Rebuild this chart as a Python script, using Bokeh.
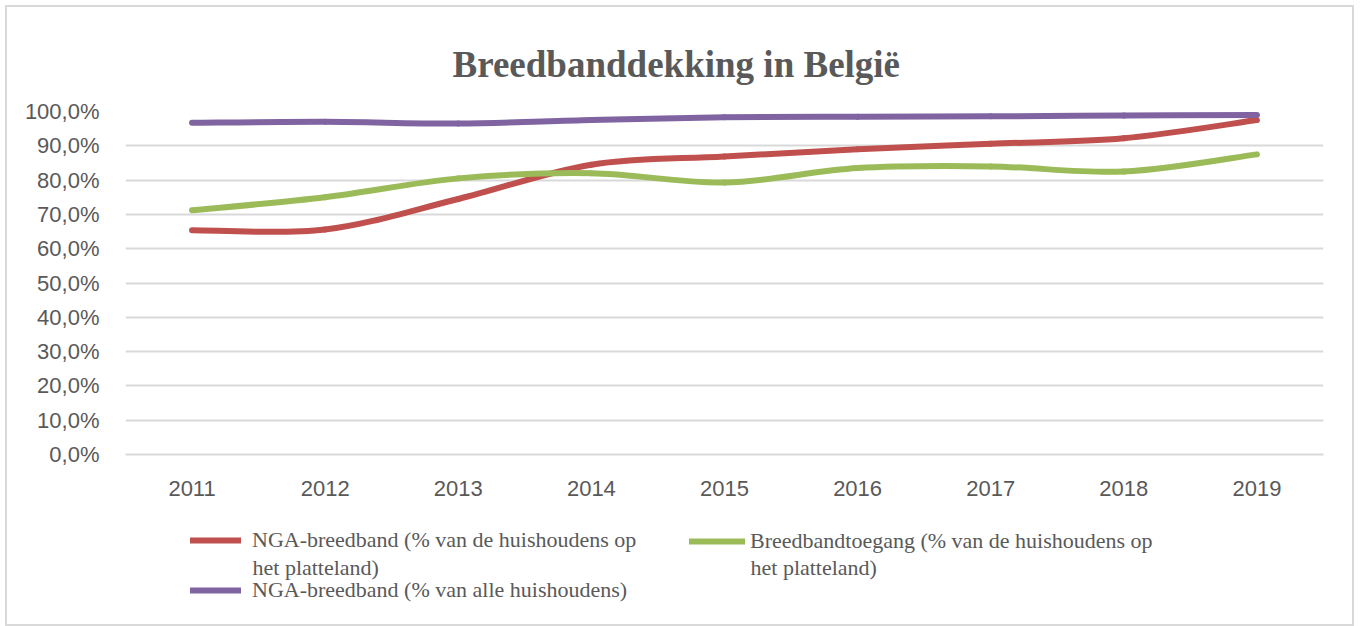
import numpy as np
from bokeh.plotting import figure
from bokeh.layouts import column
from bokeh.models import Range1d, FixedTicker, Legend, LegendItem, Label
from bokeh.embed import file_html
from bokeh.resources import INLINE

# ---------------- data ----------------
years = ["2011", "2012", "2013", "2014", "2015", "2016", "2017", "2018", "2019"]
nga_rural = [65.4, 65.6, 74.5, 84.5, 86.9, 89.0, 90.6, 92.2, 97.5]
access_rural = [71.2, 75.0, 80.5, 82.0, 79.3, 83.5, 84.0, 82.5, 87.5]
nga_all = [96.7, 97.0, 96.5, 97.5, 98.3, 98.5, 98.6, 98.8, 99.0]

y_ticks = [0, 10, 20, 30, 40, 50, 60, 70, 80, 90, 100]
y_tick_labels = ["0,0%", "10,0%", "20,0%", "30,0%", "40,0%", "50,0%",
                 "60,0%", "70,0%", "80,0%", "90,0%", "100,0%"]

# legend texts: first line / wrapped continuation line
series_labels = [
    "NGA-breedband (% van de huishoudens op",
    "Breedbandtoegang (% van de huishoudens op",
    "NGA-breedband (% van alle huishoudens)",
]
series_label_cont = ["het platteland)", "het platteland)", ""]
series_colors = ["#c0504d", "#9bbb59", "#8064a2"]
title_text = "Breedbanddekking in België"

GREY = "#595959"
GRID = "#d9d9d9"

series_values = [nga_rural, access_rural, nga_all]
xpos = np.arange(1, len(years) + 1, dtype=float)


def smooth_segments(xs, ys):
    """Cubic Bezier segments (Catmull-Rom style, like a smoothed line)."""
    xs = np.asarray(xs, float)
    ys = np.asarray(ys, float)
    n = len(xs)
    xp = np.concatenate([[xs[0]], xs, [xs[-1]]])
    yp = np.concatenate([[ys[0]], ys, [ys[-1]]])
    return dict(
        x0=xs[:-1], y0=ys[:-1], x1=xs[1:], y1=ys[1:],
        cx0=xp[1:n] + (xp[2:n + 1] - xp[0:n - 1]) / 6.0,
        cy0=yp[1:n] + (yp[2:n + 1] - yp[0:n - 1]) / 6.0,
        cx1=xp[2:n + 1] - (xp[3:n + 2] - xp[1:n]) / 6.0,
        cy1=yp[2:n + 1] - (yp[3:n + 2] - yp[1:n]) / 6.0,
    )


# ---------------- main chart ----------------
p = figure(
    width=1345, height=500,
    x_range=Range1d(0.5, len(years) + 0.5), y_range=Range1d(0, 100),
    output_backend="svg", toolbar_location=None,
    min_border_left=118, min_border_right=29,
    min_border_top=104, min_border_bottom=53,
    title=title_text,
)
p.outline_line_color = None
p.background_fill_color = "white"
p.border_fill_color = "white"

p.title.text_font = "Liberation Serif"
p.title.text_font_style = "bold"
p.title.text_font_size = "37px"
p.title.text_color = GREY
p.title.align = "left"
p.title.offset = 327
p.title.standoff = 54

p.xgrid.grid_line_color = None
p.ygrid.grid_line_color = GRID
p.ygrid.grid_line_width = 2

p.yaxis.ticker = FixedTicker(ticks=y_ticks)
p.yaxis.major_label_overrides = {t: l for t, l in zip(y_ticks, y_tick_labels)}
p.xaxis.ticker = FixedTicker(ticks=list(xpos))
p.xaxis.major_label_overrides = {int(v): yr for v, yr in zip(xpos, years)}
for ax in (p.xaxis[0], p.yaxis[0]):
    ax.major_tick_line_color = None
    ax.minor_tick_line_color = None
    ax.major_label_text_font = "Liberation Sans"
    ax.major_label_text_font_size = "22px"
    ax.major_label_text_color = GREY
p.yaxis.axis_line_color = None
p.yaxis.major_label_standoff = 20
p.xaxis.axis_line_color = GRID
p.xaxis.axis_line_width = 2
p.xaxis.major_label_standoff = 20

for vals, col in zip(series_values, series_colors):
    seg = smooth_segments(xpos, vals)
    p.bezier(source=seg, x0="x0", y0="y0", x1="x1", y1="y1",
             cx0="cx0", cy0="cy0", cx1="cx1", cy1="cy1",
             line_color=col, line_width=6, line_cap="round")

# ---------------- legend strip ----------------
# (its ranges keep the series lines out of view: only the legend swatches show)
q = figure(
    width=1345, height=117,
    x_range=Range1d(-20, -10), y_range=Range1d(-20, -10),
    output_backend="svg", toolbar_location=None,
    x_axis_type=None, y_axis_type=None,
    min_border_left=0, min_border_right=0,
    min_border_top=0, min_border_bottom=0,
)
q.grid.visible = False
q.outline_line_color = None
q.background_fill_color = "white"
q.border_fill_color = "white"

legend_renderers = [q.line(x=xpos, y=vals, line_color=c, line_width=6, line_cap="round")
                    for vals, c in zip(series_values, series_colors)]

text_style = dict(text_font="Liberation Serif", text_font_size="22px",
                  text_color=GREY)
common = dict(
    label_text_font="Liberation Serif", label_text_font_size="22px",
    label_text_color=GREY,
    border_line_color=None, background_fill_alpha=0,
    padding=0, margin=0, glyph_height=22, label_height=22,
)
legA = Legend(
    items=[LegendItem(label=series_labels[0], renderers=[legend_renderers[0]]),
           LegendItem(label=series_labels[2], renderers=[legend_renderers[2]])],
    location=(65, 21), orientation="vertical", spacing=24,
    glyph_width=51, label_standoff=11, **common)
legB = Legend(
    items=[LegendItem(label=series_labels[1], renderers=[legend_renderers[1]])],
    location=(564, 70), orientation="vertical", spacing=0,
    glyph_width=56, label_standoff=5, **common)
q.add_layout(legA)
q.add_layout(legB)

# wrapped second lines of the legend labels
q.add_layout(Label(x=127, y=57, x_units="screen", y_units="screen",
                   text=series_label_cont[0], text_baseline="alphabetic",
                   **text_style))
q.add_layout(Label(x=625, y=57, x_units="screen", y_units="screen",
                   text=series_label_cont[1], text_baseline="alphabetic",
                   **text_style))

layout = column(p, q, spacing=0)
layout.styles = {"border": "2px solid #d9d9d9", "margin": "5px 0 0 5px"}

open("out.html", "w").write(file_html(layout, INLINE))
